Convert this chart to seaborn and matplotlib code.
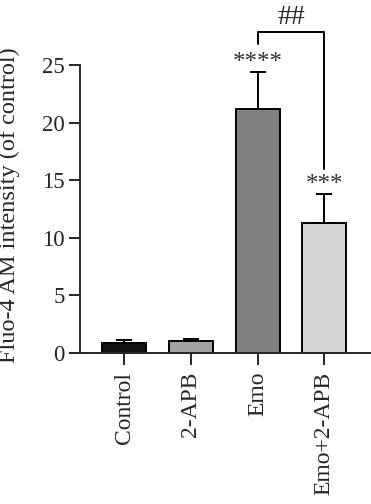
import matplotlib
matplotlib.use("Agg")
import matplotlib.pyplot as plt
import seaborn as sns
import pandas as pd

# Data
groups = ["Control", "2-APB", "Emo", "Emo+2-APB"]
means = [0.9, 1.0, 21.2, 11.3]
errs = [0.2, 0.25, 3.2, 2.5]
stars = ["", "", "****", "***"]
bar_colors = ["#111111", "#a3a3a3", "#808080", "#d6d6d6"]

df = pd.DataFrame({"group": groups, "value": means})

sns.set_style("ticks")
plt.rcParams["font.family"] = ["Liberation Serif", "DejaVu Serif"]

fig = plt.figure(figsize=(3.71, 5.04), dpi=100)
ax = fig.add_axes([70 / 371, 1 - 353 / 504, 301 / 371, 353 / 504])

sns.barplot(data=df, x="group", y="value", hue="group", palette=bar_colors,
            errorbar=None, width=0.66, edgecolor="black", linewidth=1.4,
            legend=False, ax=ax)
ax.errorbar(range(len(groups)), means, yerr=[[0] * len(groups), errs],
            fmt="none", ecolor="black", elinewidth=1.4, capsize=6, capthick=1.4)

for i, s in enumerate(stars):
    if s:
        ax.text(i, means[i] + errs[i] - 0.2, s, ha="center", va="bottom",
                fontsize=18, color="#333333")

# significance bracket Emo vs Emo+2-APB
ax.plot([2, 2, 3, 3], [26.8, 27.85, 27.85, 16.0], color="black", lw=1.4,
        clip_on=False)
ax.text(2.5, 28.0, "##", ha="center", va="bottom", fontsize=20, color="#222222")

ax.set_xlim(-0.81, 3.70)
ax.set_ylim(0, 353 / 11.52)
ax.set_yticks([0, 5, 10, 15, 20, 25])
ax.spines["left"].set_bounds(0, 25)
ax.spines["left"].set_position(("axes", 10 / 301))
ax.spines["top"].set_visible(False)
ax.spines["right"].set_visible(False)
for sp in ax.spines.values():
    sp.set_linewidth(1.4)
ax.tick_params(axis="y", length=8, width=1.4, labelsize=16.5, direction="out", pad=3)
ax.tick_params(axis="x", length=8.5, width=1.4, labelsize=17, direction="out", pad=5)
ax.set_xticks(range(len(groups)))
ax.set_xticklabels(groups, rotation=90)
ax.set_xlabel("")
ax.set_ylabel("Fluo-4 AM intensity (of control)", fontsize=17.5)
ax.yaxis.set_label_coords(-0.165, (353 - 205) / 353)

fig.savefig("out.png", dpi=100)
